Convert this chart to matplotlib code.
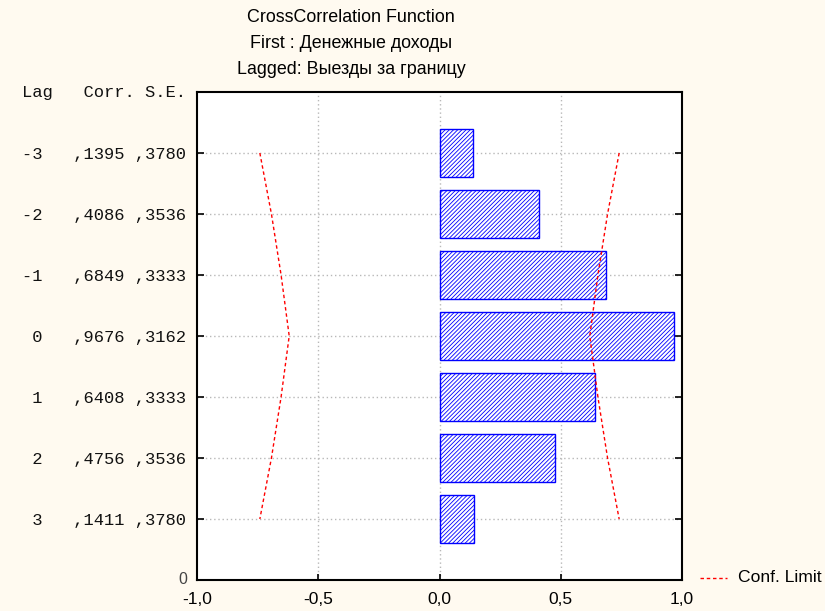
import matplotlib
matplotlib.use("Agg")
import matplotlib.pyplot as plt
import numpy as np

lags = [-3, -2, -1, 0, 1, 2, 3]
corr = [0.1395, 0.4086, 0.6849, 0.9676, 0.6408, 0.4756, 0.1411]
se = [0.3780, 0.3536, 0.3333, 0.3162, 0.3333, 0.3536, 0.3780]
xticks = [-1.0, -0.5, 0.0, 0.5, 1.0]
xticklabels = ["-1,0", "-0,5", "0,0", "0,5", "1,0"]
title_lines = ["CrossCorrelation Function",
               "First : Денежные доходы",
               "Lagged: Выезды за границу"]

plt.rcParams['hatch.linewidth'] = 0.6
bg = "#fffaf0"
fig = plt.figure(figsize=(8.25, 6.11), dpi=100, facecolor=bg)
ax = fig.add_axes([197/825, 1-580/611, (682-197)/825, (580-92)/611])
ax.set_facecolor("white")

n = len(lags)
ypos = np.arange(n, 0, -1)  # lag -3 at top (7), lag 3 at bottom (1)

ax.barh(ypos, corr, height=0.8, left=0, color="white", edgecolor="#0000ff",
        hatch="////////", linewidth=1.0, zorder=3)

conf = [1.96 * s for s in se]
ax.plot(conf, ypos, color="red", ls=(0, (2.5, 2)), lw=1.0, zorder=4)
ax.plot([-c for c in conf], ypos, color="red", ls=(0, (2.5, 2)), lw=1.0, zorder=4)

ax.set_xlim(-1, 1)
ax.set_ylim(0, 8)
ax.set_xticks(xticks)
ax.set_xticklabels(xticklabels, fontfamily="Liberation Sans", fontsize=12.5)
ax.set_yticks(ypos)
ylabels = [f"{l:>2}   ,{int(round(c*10000)):04d} ,{int(round(s*10000)):04d}"
           for l, c, s in zip(lags, corr, se)]
ax.set_yticklabels(ylabels, fontfamily="Liberation Mono", fontsize=12.3,
                   color="#111111")
ax.tick_params(axis='y', direction='in', length=5, width=1.2, pad=8,
               right=True)
ax.tick_params(axis='x', direction='in', length=4, width=1.2, pad=9)

for x in [-0.5, 0, 0.5]:
    ax.axvline(x, color="#b8b8b8", ls=(0, (1, 2)), lw=1.0, zorder=1)
for y in ypos:
    ax.axhline(y, color="#b8b8b8", ls=(0, (1, 2)), lw=1.0, zorder=1)

for sp in ax.spines.values():
    sp.set_linewidth(1.5)
    sp.set_color("black")

# header above labels
ax.annotate("Lag   Corr. S.E.", xy=(0, 8), xycoords=ax.get_yaxis_transform(),
            xytext=(-11, 0), textcoords="offset pixels",
            ha="right", va="center", fontfamily="Liberation Mono",
            fontsize=12.3, color="#111111", annotation_clip=False)
ax.annotate("0", xy=(0, 0), xycoords=ax.get_yaxis_transform(),
            xytext=(-10, 0), textcoords="offset pixels",
            ha="right", va="center", fontfamily="Liberation Sans",
            fontsize=11.5, color="#444444", annotation_clip=False)

for i, t in enumerate(title_lines):
    fig.text(351/825, 1 - (17 + 26*i)/611, t, ha="center", va="center",
             fontfamily="Liberation Sans", fontsize=12.9)

# legend
fig.lines.append(plt.Line2D([700/825, 727/825], [1-578/611, 1-578/611],
                            transform=fig.transFigure, color="red",
                            ls=(0, (2.5, 2)), lw=1.0))
fig.text(738/825, 1-578/611, "Conf. Limit", ha="left", va="center",
         fontfamily="Liberation Sans", fontsize=12.6)

fig.savefig("out.png", dpi=100, facecolor=bg)
